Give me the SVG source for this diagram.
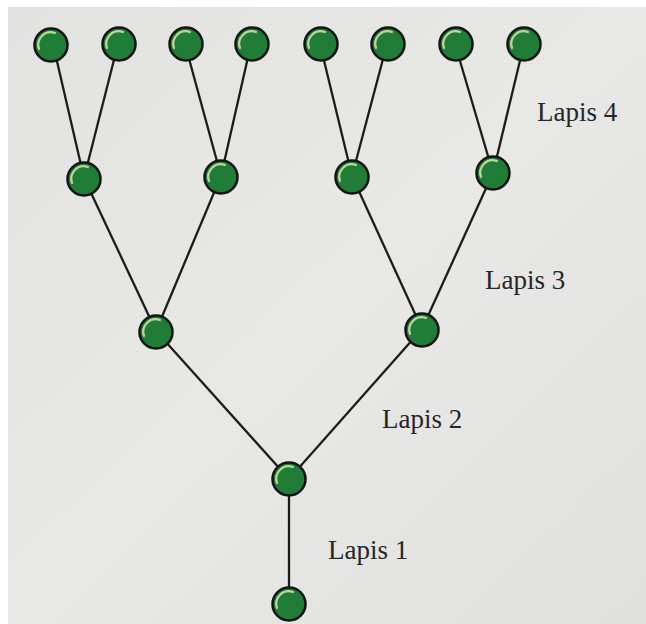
<svg xmlns="http://www.w3.org/2000/svg" width="646" height="624" viewBox="0 0 646 624">
<defs>
<linearGradient id="bg" x1="0" y1="0" x2="1" y2="1">
<stop offset="0" stop-color="#e2e2e0"/>
<stop offset="0.5" stop-color="#e8e8e6"/>
<stop offset="1" stop-color="#e0e1de"/>
</linearGradient>
<g id="node">
<circle r="16.5" fill="#1f7d38" stroke="#141414" stroke-width="2.5"/>
<path d="M -12 4 A 12.5 12.5 0 0 1 4 -12" fill="none" stroke="#b9d99a" stroke-width="2.2" stroke-linecap="round"/>
</g>
</defs>
<style>
.edge{stroke:#1c1c1c;stroke-width:2.3;fill:none}
.lbl{font-family:"Liberation Serif","Times New Roman",serif;font-size:27px;fill:#262626}
</style>
<rect width="646" height="624" fill="#ffffff"/>
<rect x="8" y="7" width="638" height="617" fill="url(#bg)"/>
<g id="connectors">
<line class="edge" x1="53" y1="44" x2="84" y2="178"/>
<line class="edge" x1="118" y1="44" x2="84" y2="178"/>
<line class="edge" x1="185" y1="44" x2="221" y2="176"/>
<line class="edge" x1="251" y1="44" x2="221" y2="176"/>
<line class="edge" x1="320" y1="44" x2="352" y2="176"/>
<line class="edge" x1="387" y1="44" x2="352" y2="176"/>
<line class="edge" x1="455" y1="44" x2="493" y2="173"/>
<line class="edge" x1="524" y1="44" x2="493" y2="173"/>
<line class="edge" x1="84" y1="178" x2="156" y2="331"/>
<line class="edge" x1="221" y1="176" x2="156" y2="331"/>
<line class="edge" x1="352" y1="176" x2="422" y2="329"/>
<line class="edge" x1="493" y1="173" x2="422" y2="329"/>
<line class="edge" x1="156" y1="331" x2="289" y2="479"/>
<line class="edge" x1="422" y1="329" x2="289" y2="479"/>
<line class="edge" x1="289" y1="479" x2="289" y2="604"/>
</g>
<g id="n4a"><use href="#node" x="51" y="45"/></g>
<g id="n4b"><use href="#node" x="119" y="44"/></g>
<g id="n4c"><use href="#node" x="186" y="44"/></g>
<g id="n4d"><use href="#node" x="252" y="44"/></g>
<g id="n4e"><use href="#node" x="321" y="44"/></g>
<g id="n4f"><use href="#node" x="388" y="44"/></g>
<g id="n4g"><use href="#node" x="456" y="44"/></g>
<g id="n4h"><use href="#node" x="524" y="44"/></g>
<g id="n3a"><use href="#node" x="84" y="179"/></g>
<g id="n3b"><use href="#node" x="221" y="177"/></g>
<g id="n3c"><use href="#node" x="352" y="177"/></g>
<g id="n3d"><use href="#node" x="493" y="173"/></g>
<g id="n2a"><use href="#node" x="156" y="332"/></g>
<g id="n2b"><use href="#node" x="422" y="330"/></g>
<g id="n1a"><use href="#node" x="289" y="479"/></g>
<g id="n0"><use href="#node" x="289" y="604"/></g>
<g id="labels">
<text class="lbl" x="537" y="121">Lapis 4</text>
<text class="lbl" x="485" y="289">Lapis 3</text>
<text class="lbl" x="382" y="428">Lapis 2</text>
<text class="lbl" x="328" y="559">Lapis 1</text>
</g>
</svg>
